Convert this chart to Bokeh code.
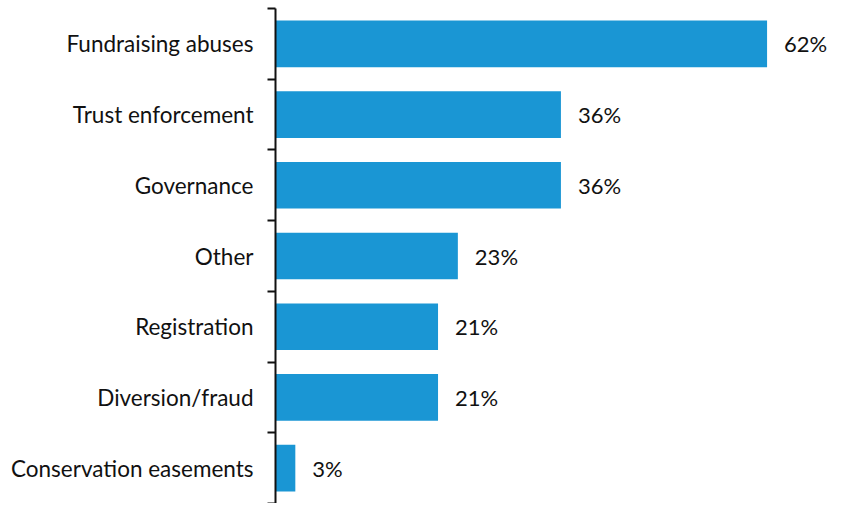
from bokeh.plotting import figure
from bokeh.models import ColumnDataSource, FixedTicker, Range1d
from bokeh.core.properties import value
from bokeh.embed import file_html
from bokeh.resources import INLINE

categories = ["Fundraising abuses", "Trust enforcement", "Governance", "Other",
              "Registration", "Diversion/fraud", "Conservation easements"]
values = [62, 36, 36, 23, 20.5, 20.5, 2.5]
labels = ["62%", "36%", "36%", "23%", "21%", "21%", "3%"]

n = len(categories)
centers = [n - i - 0.5 for i in range(n)]
boundaries = list(range(n + 1))

src = ColumnDataSource(dict(cat=categories, val=values, lab=labels, y=centers))

p = figure(width=830, height=503, output_backend="svg", toolbar_location=None,
           x_range=Range1d(0, 70), y_range=Range1d(0, n),
           min_border_left=275, min_border_right=0, min_border_top=8, min_border_bottom=0)
p.outline_line_color = None
p.background_fill_color = "white"
p.border_fill_color = "white"
p.grid.visible = False
p.xaxis.visible = False

p.hbar(y="y", left=0, right="val", height=0.66, source=src,
       fill_color="#1a96d4", line_color=None)
p.text(x="val", y="y", text="lab", source=src, x_offset=17,
       text_font=value("Lato"), text_font_size="22px", text_color="#111111",
       text_align="left", text_baseline="middle")

ax = p.yaxis[0]
ax.ticker = FixedTicker(ticks=centers, minor_ticks=boundaries)
ax.major_label_overrides = {c: cat for c, cat in zip(centers, categories)}
ax.major_tick_out = 0
ax.major_tick_in = 0
ax.minor_tick_out = 8
ax.minor_tick_in = 0
ax.minor_tick_line_width = 2
ax.minor_tick_line_color = "#111111"
ax.axis_line_width = 2
ax.axis_line_color = "#111111"
ax.major_label_standoff = 14
ax.major_label_text_font = "Lato"
ax.major_label_text_font_size = "22.5px"
ax.major_label_text_color = "#111111"

open("out.html", "w").write(file_html(p, INLINE))
